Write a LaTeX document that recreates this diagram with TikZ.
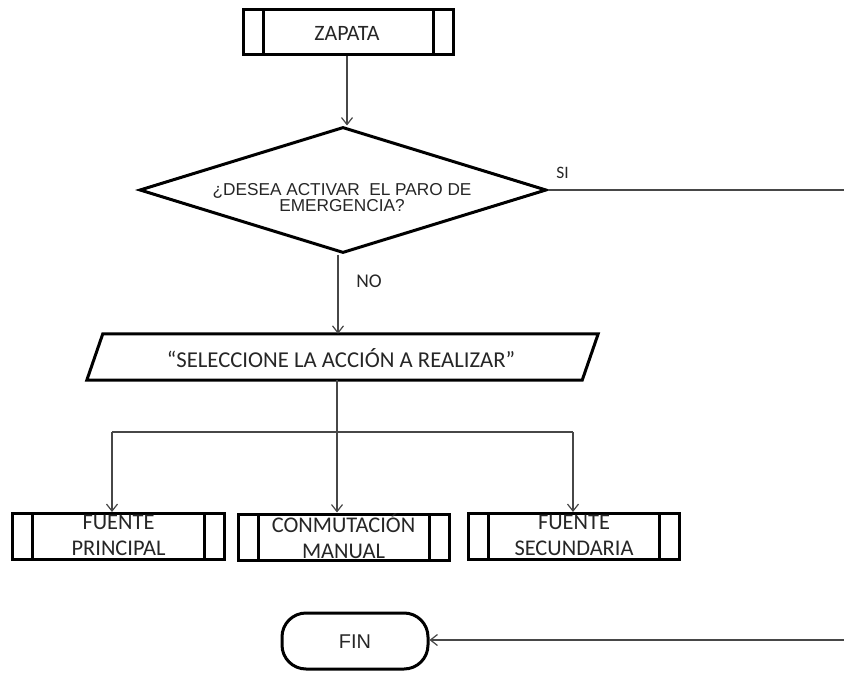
\documentclass[tikz,border=0pt]{standalone}
\usepackage{fontspec}
\setmainfont{Carlito}
\newfontfamily\arialfont{Liberation Sans}
\usetikzlibrary{arrows.meta,shapes.geometric}
\begin{document}
\begin{tikzpicture}[x=1bp,y=-1bp,
  line/.style={draw=black!72, line width=1.2bp},
  arrow/.style={line, -{Straight Barb[length=7bp,width=11bp]}},
  outline/.style={draw=black, line width=3bp},
  procbox/.style={outline, rectangle, minimum width=211bp, minimum height=46bp, inner sep=0pt,
    path picture={\draw[line width=3bp]
      ([xshift=20bp]path picture bounding box.north west) -- ([xshift=20bp]path picture bounding box.south west)
      ([xshift=-20bp]path picture bounding box.north east) -- ([xshift=-20bp]path picture bounding box.south east);}},
  proctext/.style={inner sep=0pt, align=center, text=black!85, font=\fontsize{22.5}{26}\selectfont},
  label/.style={inner sep=0pt, text=black!85}
]
\useasboundingbox (0,0) rectangle (844,677);

% start: predefined process
\node[procbox, minimum width=210bp, minimum height=45bp] (zap) at (348,32.5) {};
\node[proctext, font=\fontsize{22}{26}\selectfont] (zapt) at (347,33) {ZAPATA};

% decision
\node[diamond, outline, aspect=3.24, minimum width=407bp, minimum height=126bp, inner sep=0pt] (dec) at (343,190) {};
\node[label, align=center, font=\arialfont\fontsize{17.3}{16.5}\selectfont] (dect) at (342,197.5) {¿DESEA ACTIVAR\ \ EL PARO DE\\EMERGENCIA?};

% input/output
\node[rectangle, minimum width=495bp, minimum height=46bp, inner sep=0pt] (sel) at (342.5,357) {};
\draw[outline] ([xshift=-8bp]sel.south west) -- ([xshift=8bp]sel.north west)
  -- ([xshift=8bp]sel.north east) -- ([xshift=-8bp]sel.south east) -- cycle;
\node[label, font=\fontsize{22.8}{26}\selectfont] (selt) at (341,358) {“SELECCIONE LA ACCIÓN A REALIZAR”};

% three actions
\node[procbox] (fp) at (118.5,536.5) {};
\node[procbox] (cm) at (343.5,537) {};
\node[procbox] (fs) at (574,536.5) {};
\node[proctext] (fpt) at ([yshift=1bp]fp.center) {FUENTE\\PRINCIPAL};
\node[proctext] (cmt) at ([yshift=1bp]cm.center) {CONMUTACIÓN\\MANUAL};
\node[proctext] (fst) at ([yshift=1bp]fs.center) {FUENTE\\SECUNDARIA};

% end
\node[outline, rectangle, rounded corners=24bp, minimum width=146bp, minimum height=56bp, inner sep=0pt] (fin) at (355,641) {};
\node[label, font=\arialfont\fontsize{20}{22}\selectfont] (fint) at (355,642) {FIN};

% connectors
\draw[arrow] (zap.south -| 347,0) -- (347,0 |- dec.north);
\draw[arrow] (338,0 |- dec.south) -- (338,0 |- sel.north);
\node[label, font=\fontsize{19.5}{20}\selectfont] (no) at (369,281) {NO};

\coordinate (siend) at (844,190);
\draw[line] (dec.east) -- (siend);
\node[label, font=\fontsize{17.5}{18}\selectfont] (si) at (562.5,172.5) {SI};

\coordinate (jc) at (337,432);
\coordinate (jl) at (112,432);
\coordinate (jr) at (573,432);
\draw[arrow] (jc |- sel.south) -- (jc |- cm.north);
\draw[line] (jl) -- (jr);
\draw[arrow] (jl) -- (jl |- fp.north);
\draw[arrow] (jr) -- (jr |- fs.north);

\coordinate (finend) at (844,640);
\draw[arrow] (finend) -- (fin.east |- finend);
\end{tikzpicture}
\end{document}
